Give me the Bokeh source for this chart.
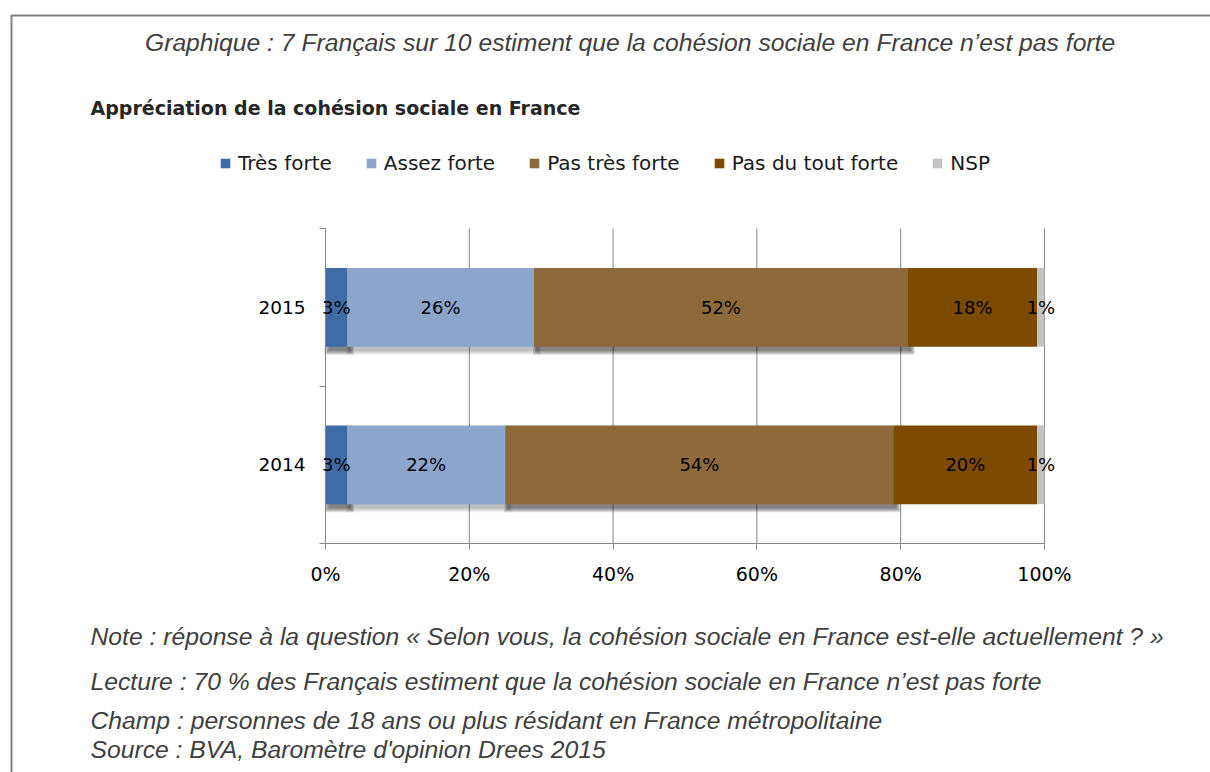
import numpy as np
from bokeh.plotting import figure
from bokeh.models import (ColumnDataSource, Range1d, FixedTicker, Legend, LegendItem,
                          Label, LabelSet, LinearAxis, PrintfTickFormatter)
from bokeh.core.properties import value
from bokeh.embed import file_html
from bokeh.resources import INLINE

# ---------------- data ----------------
years = ["2014", "2015"]
series = ["Très forte", "Assez forte", "Pas très forte", "Pas du tout forte", "NSP"]
tres_forte = [3, 3]
assez_forte = [22, 26]
pas_tres_forte = [54, 52]
pas_du_tout_forte = [20, 18]
nsp = [1, 1]
x_ticks = [0, 20, 40, 60, 80, 100]

title_text = "Graphique : 7 Français sur 10 estiment que la cohésion sociale en France n’est  pas forte"
subtitle_text = "Appréciation de la cohésion sociale en France"
notes = [
    "Note : réponse à la question « Selon vous, la cohésion sociale en France est-elle actuellement ? »",
    "Lecture : 70 % des Français estiment que la cohésion sociale en France n’est  pas forte",
    "Champ : personnes de 18 ans ou plus résidant en France métropolitaine",
    "Source : BVA, Baromètre d'opinion Drees 2015",
]

# ---------------- styles ----------------
colors = ["#3F6CA6", "#8BA5CB", "#8E6A3B", "#7C4A00", "#C3C3C3"]
shadow_alpha = [0.60, 0.28, 0.60, 0.0, 0.0]
AXIS_COL = "#868686"
TXT_GRAY = "#404040"
SANS = "DejaVu Sans"
ARIAL = "Liberation Sans"

W, H = 1210, 772
FL, FR, FT, FB = 325, 1044, 228, 543   # chart area in page pixels
PX_X = (FR - FL) / 100.0
PX_Y = (FB - FT) / float(len(years))

def dx(sx):
    return (sx - FL) / PX_X

def dy(sy):
    return (FB - sy) / PX_Y

p = figure(width=W, height=H, x_range=Range1d(dx(0), dx(W)), y_range=Range1d(dy(H), dy(0)),
           output_backend="svg", toolbar_location=None,
           x_axis_location=None, y_axis_location=None,
           min_border=0, min_border_left=0, min_border_right=0,
           min_border_top=0, min_border_bottom=0)
p.outline_line_color = None
p.background_fill_color = "white"
p.border_fill_color = "white"
p.xgrid.visible = False
p.ygrid.visible = False

# ---------------- grid lines (vertical) ----------------
n_cat = len(years)
p.segment(x0=x_ticks, x1=x_ticks, y0=[0] * len(x_ticks), y1=[n_cat] * len(x_ticks),
          line_color=AXIS_COL, line_width=1)

# ---------------- bars ----------------
values = np.array([tres_forte, assez_forte, pas_tres_forte, pas_du_tout_forte, nsp], dtype=float)
rights = np.cumsum(values, axis=0)
lefts = rights - values
ypos = np.arange(n_cat) + 0.5
BAR_H = 0.5

# soft drop shadows
off_x, off_y = 3.0, 4.0
for i in range(len(series)):
    if shadow_alpha[i] <= 0:
        continue
    for e in [4, 3, 2, 1, 0]:
        p.hbar(y=ypos - off_y / PX_Y, left=lefts[i] + (off_x - e) / PX_X,
               right=rights[i] + (off_x + e) / PX_X, height=BAR_H + 2 * e / PX_Y,
               fill_color="black", fill_alpha=shadow_alpha[i] * 0.2, line_color=None)

renderers = []
for i, name in enumerate(series):
    src = ColumnDataSource(dict(y=ypos, left=lefts[i], right=rights[i]))
    r = p.hbar(y="y", left="left", right="right", height=BAR_H, source=src,
               fill_color=colors[i], line_color=None)
    renderers.append(r)

# value labels
lab_x, lab_y, lab_t = [], [], []
for i in range(len(series)):
    for j in range(n_cat):
        lab_x.append(lefts[i][j] + values[i][j] / 2)
        lab_y.append(ypos[j])
        lab_t.append(f"{int(values[i][j])}%")
p.add_layout(LabelSet(x="x", y="y", text="t",
                      source=ColumnDataSource(dict(x=lab_x, y=lab_y, t=lab_t)),
                      text_align="center", text_baseline="middle",
                      text_font=value(SANS), text_font_size="18px", text_color="#000000"))

# ---------------- axes ----------------
xaxis = LinearAxis(fixed_location=0, bounds=(0, 100),
                   ticker=FixedTicker(ticks=x_ticks, minor_ticks=[]),
                   formatter=PrintfTickFormatter(format="%d%%"))
xaxis.axis_line_color = AXIS_COL
xaxis.major_tick_line_color = AXIS_COL
xaxis.major_tick_out = 6
xaxis.major_tick_in = 0
xaxis.minor_tick_line_color = None
xaxis.major_label_text_font = SANS
xaxis.major_label_text_font_size = "19px"
xaxis.major_label_text_color = "#000000"
xaxis.major_label_standoff = 13
p.add_layout(xaxis, "below")

yaxis = LinearAxis(fixed_location=0, bounds=(0, n_cat),
                   ticker=FixedTicker(ticks=list(ypos), minor_ticks=list(range(n_cat + 1))))
yaxis.major_label_overrides = {float(y): lab for y, lab in zip(ypos, years)}
yaxis.axis_line_color = AXIS_COL
yaxis.major_tick_line_color = None
yaxis.major_tick_out = 0
yaxis.major_tick_in = 0
yaxis.minor_tick_line_color = AXIS_COL
yaxis.minor_tick_out = 6
yaxis.minor_tick_in = 0
yaxis.major_label_text_font = SANS
yaxis.major_label_text_font_size = "18.5px"
yaxis.major_label_text_color = "#000000"
yaxis.major_label_standoff = 14
p.add_layout(yaxis, "left")

# ---------------- legend ----------------
legend = Legend(items=[LegendItem(label=s, renderers=[r]) for s, r in zip(series, renderers)],
                orientation="horizontal", location=(219, H - 175),
                padding=0, margin=0, spacing=33, label_standoff=7,
                glyph_width=12, glyph_height=12,
                label_text_font=SANS, label_text_font_size="20px", label_text_color="#1a1a1a",
                border_line_color=None, background_fill_alpha=0)
p.add_layout(legend, "center")

# ---------------- texts ----------------
p.add_layout(Label(x=dx(633), y=dy(42), text=title_text, text_align="center",
                   text_baseline="middle", text_font=ARIAL, text_font_style="italic",
                   text_font_size="24.7px", text_color=TXT_GRAY))
p.add_layout(Label(x=dx(90), y=dy(107), text=subtitle_text, text_align="left",
                   text_baseline="middle", text_font=SANS, text_font_style="bold",
                   text_font_size="19px", text_color="#262626"))
for t, sy in zip(notes, [636, 681, 720, 749]):
    p.add_layout(Label(x=dx(90), y=dy(sy), text=t, text_align="left",
                       text_baseline="middle", text_font=ARIAL, text_font_style="italic",
                       text_font_size="24.7px", text_color=TXT_GRAY))

# outer frame (top and left edges visible)
p.line(x=[dx(11), dx(11), dx(W + 20)], y=[dy(H + 20), dy(15), dy(15)],
       line_color="#808080", line_width=2)

open("out.html", "w").write(file_html(p, INLINE))
